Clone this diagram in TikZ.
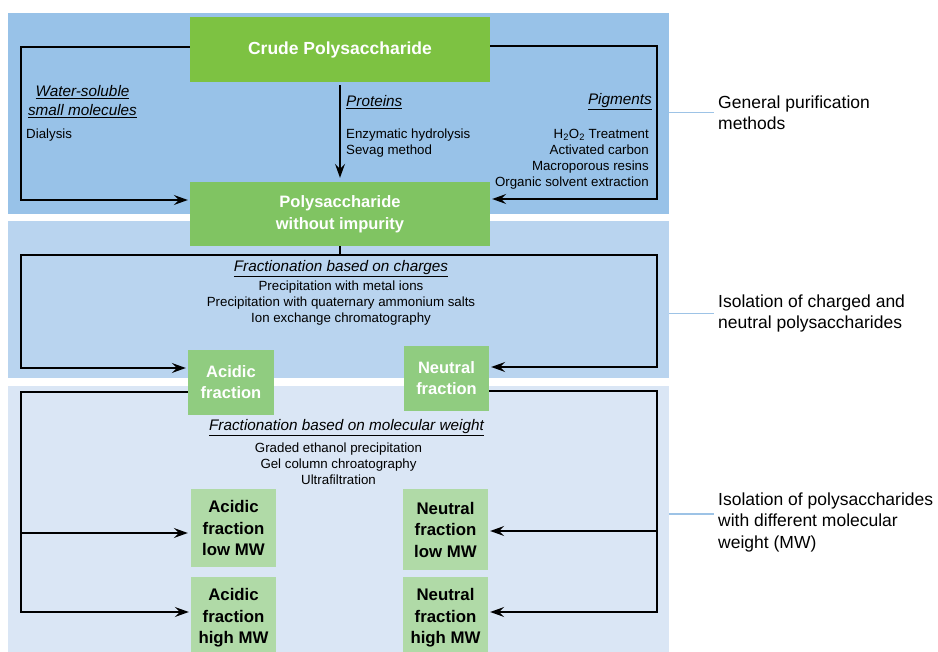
\documentclass[tikz,border=0pt]{standalone}
\usepackage{fontspec}
\setmainfont{Liberation Sans}
\usetikzlibrary{arrows.meta}
\definecolor{pone}{HTML}{98C2E8}
\definecolor{ptwo}{HTML}{B9D4EF}
\definecolor{pthree}{HTML}{DAE6F5}
\definecolor{gcrude}{HTML}{7DC242}
\definecolor{gpoly}{HTML}{80C462}
\definecolor{gfrac}{HTML}{90CC80}
\definecolor{gmw}{HTML}{B0DAA7}
\definecolor{labblue}{HTML}{9DC3E6}
\tikzset{
  panel/.style={fill=#1, draw=none, inner sep=0pt, minimum width=661pt, anchor=north west},
  gbox/.style={fill=#1, draw=none, inner sep=0pt, align=center},
  wtxt/.style={text=white, font=\bfseries\fontsize{16.5}{21}\selectfont},
  btxt/.style={text=black, font=\bfseries\fontsize{16.8}{21.5}\selectfont},
  body/.style={inner sep=0pt, font=\fontsize{13.3}{16}\selectfont},
  head/.style={inner sep=0pt, font=\itshape\fontsize{15.3}{19}\selectfont},
  sidelab/.style={inner xsep=4pt, inner ysep=0pt, anchor=west, align=left, font=\fontsize{17.5}{21.5}\selectfont},
  labline/.style={draw=labblue, line width=1.5pt},
  conn/.style={line width=1.4pt, draw=black},
  arr/.style={conn, -{Stealth[length=14pt,width=10pt,inset=5pt]}},
}
\begin{document}
\begin{tikzpicture}[x=1pt,y=-1pt]
\useasboundingbox (0,0) rectangle (938,652);
\clip (0,0) rectangle (938,652);
\fill[white] (0,0) rectangle (938,652);
% panels
\node[panel=pone, minimum height=201pt] (p1) at (8,13) {};
\node[panel=ptwo, minimum height=157pt] (p2) at (8,221) {};
\node[panel=pthree, minimum height=266pt] (p3) at (8,386) {};
\coordinate (xl) at (21,0);
\coordinate (xr) at (657,0);
\coordinate (ysplit) at (0,255);
% boxes
\node[gbox=gcrude, minimum width=300pt, minimum height=65pt, text=white, font=\bfseries\fontsize{17.5}{21}\selectfont] (crude) at (340,49.5) {Crude Polysaccharide};
\node[gbox=gpoly, wtxt, minimum width=300pt, minimum height=64pt, font=\bfseries\fontsize{16.5}{22}\selectfont] (poly) at (340,214) {Polysaccharide\\without impurity};
\node[gbox=gfrac, wtxt, minimum width=86pt, minimum height=65pt] (acid) at (231,382.5) {Acidic\\fraction};
\node[gbox=gfrac, wtxt, minimum width=85pt, minimum height=65pt] (neut) at (446.5,378.5) {Neutral\\fraction};
\node[gbox=gmw, btxt, minimum width=85pt, minimum height=78pt] (alow) at (233.5,528) {Acidic\\fraction\\low MW};
\node[gbox=gmw, btxt, minimum width=85pt, minimum height=81pt] (nlow) at (445.5,529.5) {Neutral\\fraction\\low MW};
\node[gbox=gmw, btxt, minimum width=85pt, minimum height=82pt] (ahigh) at (233.5,618) {Acidic\\fraction\\high MW};
\node[gbox=gmw, btxt, minimum width=85pt, minimum height=82pt] (nhigh) at (445.5,618) {Neutral\\fraction\\high MW};
% texts panel 1
\node[head, align=center] (ws) at (82.5,101.5) {\underline{Water-soluble}\\\underline{small molecules}};
\node[body, anchor=west] (dial) at (26,135) {Dialysis};
\node[head, anchor=west] (prot) at (346,102) {\underline{Proteins}};
\node[body, anchor=west, align=left] (enz) at (346,143) {Enzymatic hydrolysis\\Sevag method};
\node[head, anchor=east] (pig) at (652,102) {\underline{Pigments}};
\node[body, anchor=east, align=right] (pigm) at (649,159) {H\textsubscript{2}O\textsubscript{2} Treatment\\Activated carbon\\Macroporous resins\\Organic solvent extraction};
% texts panel 2
\node[head] (frc) at (341,269) {\underline{Fractionation based on charges}};
\node[body, align=center] (frcm) at (341,303) {Precipitation with metal ions\\Precipitation with quaternary ammonium salts\\Ion exchange chromatography};
% texts panel 3
\node[head] (frm) at (346.5,428) {\underline{Fractionation based on molecular weight}};
\node[body, align=center] (frmm) at (338.5,464) {Graded ethanol precipitation\\Gel column chroatography\\Ultrafiltration};
% side labels
\node[sidelab] (lab1) at (714,112.5) {General purification\\methods};
\node[sidelab] (lab2) at (714,313.5) {Isolation of charged and\\neutral polysaccharides};
\node[sidelab] (lab3) at (714,522) {Isolation of polysaccharides\\with different molecular\\weight (MW)};
\coordinate (l3) at ([yshift=8pt]lab3.west);
\draw[labline] (p1.east |- lab1.west) -- (lab1.west);
\draw[labline] (p2.east |- lab2.west) -- (lab2.west);
\draw[labline] (p3.east |- l3) -- (l3);
% connectors panel 1
\coordinate (cw) at ([yshift=2.5pt]crude.west);
\coordinate (ce) at ([yshift=3.5pt]crude.east);
\coordinate (pw) at ([yshift=14pt,xshift=-2pt]poly.west);
\coordinate (pe) at ([yshift=15pt,xshift=2pt]poly.east);
\draw[arr] (cw) -| (xl |- pw) -- (pw);
\draw[arr] (ce) -| (xr |- pe) -- (pe);
\draw[arr] ([yshift=-3pt]crude.south) -- ([yshift=4pt]poly.north);
% connectors panel 2
\coordinate (sp) at (poly.south |- ysplit);
\coordinate (aw) at ([yshift=14.5pt,xshift=-2pt]acid.west);
\coordinate (ne) at ([yshift=11.5pt,xshift=2pt]neut.east);
\draw[conn] (poly.south) -- (sp);
\draw[arr] (sp) -- (sp -| xl) |- (aw);
\draw[arr] (sp) -- (sp -| xr) |- (ne);
% connectors panel 3
\coordinate (aw3) at ([yshift=-9.5pt]acid.west);
\coordinate (ne3) at ([yshift=-12.5pt]neut.east);
\coordinate (alw) at ([yshift=-5pt,xshift=-3pt]alow.west);
\coordinate (ahw) at ([yshift=6pt,xshift=-2pt]ahigh.west);
\coordinate (nle) at ([yshift=-1.5pt,xshift=2pt]nlow.east);
\coordinate (nhe) at ([yshift=6pt,xshift=2pt]nhigh.east);
\draw[arr] (aw3) -| (xl |- ahw) -- (ahw);
\draw[arr] (xl |- alw) -- (alw);
\draw[arr] (ne3) -| (xr |- nhe) -- (nhe);
\draw[arr] (xr |- nle) -- (nle);
\end{tikzpicture}
\end{document}
